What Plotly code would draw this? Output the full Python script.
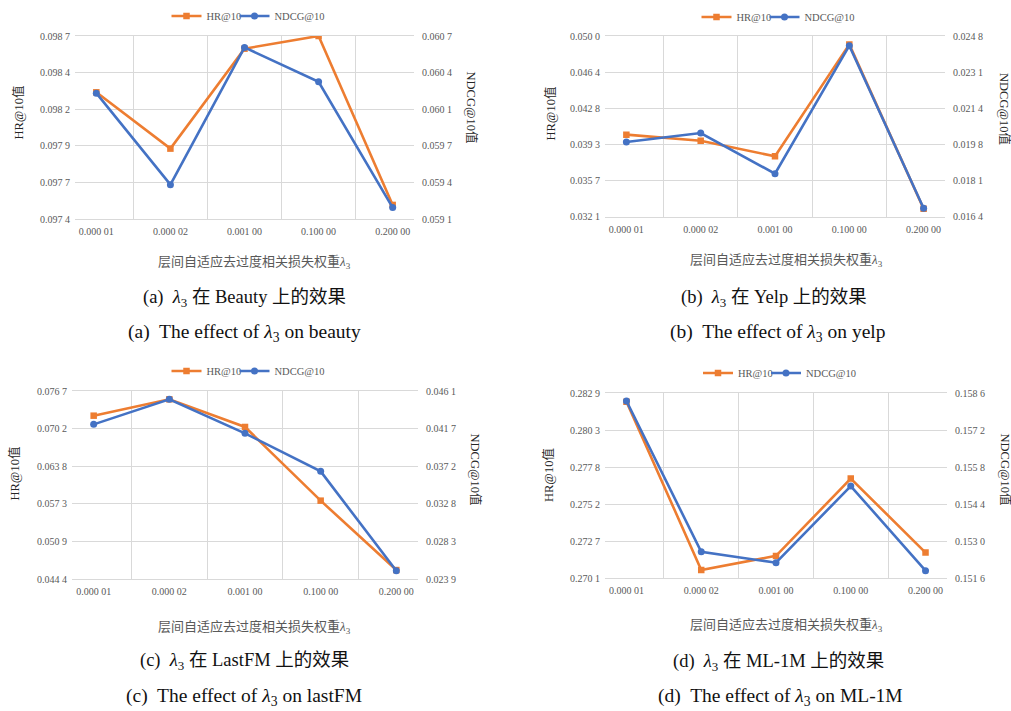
import numpy as np
import plotly.graph_objects as go

W, H = 1011, 711

# lambda_3 settings on the category axis
categories = ["0.000 01", "0.000 02", "0.001 00", "0.100 00", "0.200 00"]

# Beauty
beauty_hr = [0.09830, 0.09790, 0.09861, 0.09870, 0.09750]
beauty_ndcg = [0.06020, 0.05940, 0.06060, 0.06030, 0.05920]
beauty_hr_range = [0.0974, 0.0987]
beauty_ndcg_range = [0.0591, 0.0607]
beauty_hr_ticks = ["0.097 4", "0.097 7", "0.097 9", "0.098 2", "0.098 4", "0.098 7"]
beauty_ndcg_ticks = ["0.059 1", "0.059 4", "0.059 7", "0.060 1", "0.060 4", "0.060 7"]

# Yelp
yelp_hr = [0.04023, 0.03963, 0.03808, 0.04917, 0.03289]
yelp_ndcg = [0.01987, 0.02029, 0.01840, 0.02435, 0.01679]
yelp_hr_range = [0.0321, 0.0500]
yelp_ndcg_range = [0.0164, 0.0248]
yelp_hr_ticks = ["0.032 1", "0.035 7", "0.039 3", "0.042 8", "0.046 4", "0.050 0"]
yelp_ndcg_ticks = ["0.016 4", "0.018 1", "0.019 8", "0.021 4", "0.023 1", "0.024 8"]

# LastFM
lastfm_hr = [0.07246, 0.07527, 0.07052, 0.05786, 0.04594]
lastfm_ndcg = [0.04216, 0.04512, 0.04110, 0.03661, 0.02488]
lastfm_hr_range = [0.0444, 0.0767]
lastfm_ndcg_range = [0.0239, 0.0461]
lastfm_hr_ticks = ["0.044 4", "0.050 9", "0.057 3", "0.063 8", "0.070 2", "0.076 7"]
lastfm_ndcg_ticks = ["0.023 9", "0.028 3", "0.032 8", "0.037 2", "0.041 7", "0.046 1"]

# ML-1M
ml_hr = [0.28232, 0.27068, 0.27165, 0.27700, 0.27188]
ml_ndcg = [0.15831, 0.15260, 0.15219, 0.15509, 0.15189]
ml_hr_range = [0.2701, 0.2829]
ml_ndcg_range = [0.1516, 0.1586]
ml_hr_ticks = ["0.270 1", "0.272 7", "0.275 2", "0.277 8", "0.280 3", "0.282 9"]
ml_ndcg_ticks = ["0.151 6", "0.153 0", "0.154 4", "0.155 8", "0.157 2", "0.158 6"]

captions_cn = [
    "(a)  <i>λ</i><sub>3</sub> 在 Beauty 上的效果",
    "(b)  <i>λ</i><sub>3</sub> 在 Yelp 上的效果",
    "(c)  <i>λ</i><sub>3</sub> 在 LastFM 上的效果",
    "(d)  <i>λ</i><sub>3</sub> 在 ML-1M 上的效果",
]
captions_en = [
    "(a)  The effect of <i>λ</i><sub>3</sub> on beauty",
    "(b)  The effect of <i>λ</i><sub>3</sub> on yelp",
    "(c)  The effect of <i>λ</i><sub>3</sub> on lastFM",
    "(d)  The effect of <i>λ</i><sub>3</sub> on ML-1M",
]

# pixel layout of each panel: plot box (left, right, top, bottom), legend centre,
# axis-title positions and caption positions
panels = [
    dict(hr=beauty_hr, ndcg=beauty_ndcg, hr_range=beauty_hr_range, ndcg_range=beauty_ndcg_range,
         hr_ticks=beauty_hr_ticks, ndcg_ticks=beauty_ndcg_ticks,
         box=(75, 414, 36, 219), legend=(246.5, 16),
         ltitle=(18, 112.5), rtitle=(471, 107.5), xtitle=(254, 262),
         cap1=(244, 298), cap2=(244, 333)),
    dict(hr=yelp_hr, ndcg=yelp_ndcg, hr_range=yelp_hr_range, ndcg_range=yelp_ndcg_range,
         hr_ticks=yelp_hr_ticks, ndcg_ticks=yelp_ndcg_ticks,
         box=(605, 945, 36, 216.7), legend=(776.5, 17),
         ltitle=(550, 113.5), rtitle=(1004, 109), xtitle=(786, 260),
         cap1=(774, 298), cap2=(777, 333)),
    dict(hr=lastfm_hr, ndcg=lastfm_ndcg, hr_range=lastfm_hr_range, ndcg_range=lastfm_ndcg_range,
         hr_ticks=lastfm_hr_ticks, ndcg_ticks=lastfm_ndcg_ticks,
         box=(72, 418, 391, 579), legend=(246.5, 371),
         ltitle=(14, 473.5), rtitle=(475, 469.5), xtitle=(254, 627),
         cap1=(244, 661), cap2=(244, 697)),
    dict(hr=ml_hr, ndcg=ml_ndcg, hr_range=ml_hr_range, ndcg_range=ml_ndcg_range,
         hr_ticks=ml_hr_ticks, ndcg_ticks=ml_ndcg_ticks,
         box=(605, 947, 393.3, 578.3), legend=(778, 373),
         ltitle=(548, 475), rtitle=(1005, 469.5), xtitle=(786, 625),
         cap1=(778, 662), cap2=(780, 697)),
]

ORANGE = "#ED7D31"
BLUE = "#4472C4"
GRID = "#D9D9D9"
TICK = "#595959"
FONT = "Liberation Serif, Noto Sans CJK SC, serif"


def px(x):
    return x / W


def py(y):
    return 1 - y / H


fig = go.Figure()
annotations = []
layout = {}


def note(text, pos, size, color, angle=0):
    annotations.append(dict(
        text=text, x=px(pos[0]), y=py(pos[1]), xref="paper", yref="paper",
        xanchor="center", yanchor="middle", textangle=angle, showarrow=False,
        font=dict(family=FONT, size=size, color=color),
    ))


def legend_box(x_left, y_mid):
    return dict(
        orientation="h", x=px(x_left), y=py(y_mid), xanchor="left", yanchor="middle",
        font=dict(family=FONT, size=10.5, color=TICK), bgcolor="rgba(0,0,0,0)",
        itemwidth=30, borderwidth=0,
    )


for i, p in enumerate(panels):
    k = i + 1
    xa = "x" if k == 1 else f"x{k}"
    ya_left = f"y{2 * k - 1}" if k > 1 else "y"
    ya_right = f"y{2 * k}"
    leg_hr = "legend" if k == 1 else f"legend{2 * k - 1}"
    leg_ndcg = f"legend{2 * k}"
    x0, x1, y0, y1 = p["box"]

    fig.add_trace(go.Scatter(
        x=categories, y=p["hr"], name="HR@10", mode="lines+markers",
        line=dict(color=ORANGE, width=2.6),
        marker=dict(symbol="square", size=6.5, color=ORANGE),
        xaxis=xa, yaxis=ya_left, legend=leg_hr, showlegend=True,
    ))
    fig.add_trace(go.Scatter(
        x=categories, y=p["ndcg"], name="NDCG@10", mode="lines+markers",
        line=dict(color=BLUE, width=2.6),
        marker=dict(symbol="circle", size=7, color=BLUE),
        xaxis=xa, yaxis=ya_right, legend=leg_ndcg, showlegend=True,
    ))

    xkey = "xaxis" if k == 1 else f"xaxis{k}"
    ylkey = "yaxis" if k == 1 else f"yaxis{2 * k - 1}"
    yrkey = f"yaxis{2 * k}"

    layout[xkey] = dict(
        domain=[px(x0), px(x1)], anchor=ya_left, type="category",
        categoryorder="array", categoryarray=categories,
        tickson="boundaries", showgrid=True, gridcolor=GRID, gridwidth=1,
        showline=True, linecolor=GRID, linewidth=1, mirror=True,
        ticks="", tickfont=dict(family=FONT, size=10, color=TICK),
        ticklabelstandoff=3, zeroline=False, automargin=False,
    )
    lo, hi = p["hr_range"]
    layout[ylkey] = dict(
        domain=[py(y1), py(y0)], anchor=xa, range=[lo, hi],
        tickmode="array", tickvals=list(np.linspace(lo, hi, len(p["hr_ticks"]))),
        ticktext=p["hr_ticks"], showgrid=True, gridcolor=GRID, gridwidth=1,
        showline=False, ticks="", zeroline=False, automargin=False,
        tickfont=dict(family=FONT, size=10, color=TICK), ticklabelstandoff=4,
    )
    lo2, hi2 = p["ndcg_range"]
    layout[yrkey] = dict(
        domain=[py(y1), py(y0)], anchor=xa, overlaying=ya_left, side="right",
        range=[lo2, hi2], tickmode="array",
        tickvals=list(np.linspace(lo2, hi2, len(p["ndcg_ticks"]))),
        ticktext=p["ndcg_ticks"], showgrid=False, showline=False, ticks="",
        zeroline=False, automargin=False,
        tickfont=dict(family=FONT, size=10, color=TICK), ticklabelstandoff=7,
    )

    # two side-by-side legends so the entries sit tightly together
    lc, ly = p["legend"]
    layout[leg_hr] = legend_box(lc - 80, ly)
    layout[leg_ndcg] = legend_box(lc - 12, ly)

    note("HR@10值", p["ltitle"], 12.5, "#262626", -90)
    note("NDCG@10值", p["rtitle"], 12.5, "#262626", 90)
    note("层间自适应去过度相关损失权重<i>λ</i><sub>3</sub>", p["xtitle"], 13, TICK)
    note(captions_cn[i], p["cap1"], 18.5, "#111111")
    note(captions_en[i], p["cap2"], 19.5, "#111111")

fig.update_layout(
    width=W, height=H, margin=dict(l=0, r=0, t=0, b=0, autoexpand=False),
    paper_bgcolor="white", plot_bgcolor="white", showlegend=True,
    font=dict(family=FONT), annotations=annotations, **layout,
)

fig.write_html("out.html")
